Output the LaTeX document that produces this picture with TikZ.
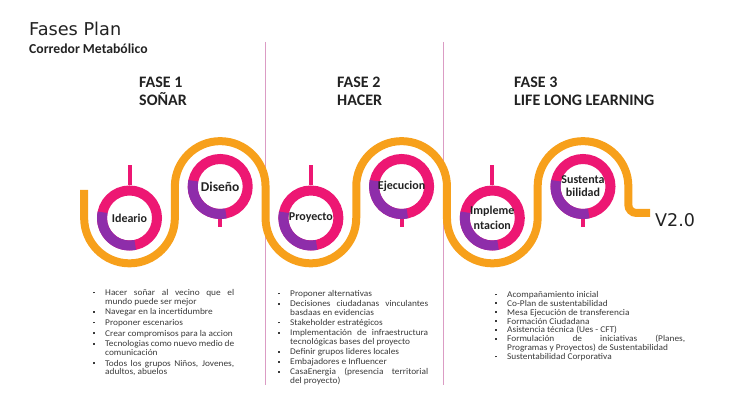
\documentclass[tikz,border=0pt]{standalone}
\usepackage{fontspec}
\setmainfont{Carlito}
\newfontfamily\dejavu{DejaVu Sans}
\newfontfamily\lstfont[FakeStretch=1.06]{Carlito}
\definecolor{orng}{HTML}{F7A01B}
\definecolor{pnk}{HTML}{ED1773}
\definecolor{prpl}{HTML}{8E2DAA}
\definecolor{divc}{HTML}{DB9CC4}
\definecolor{txt}{HTML}{222222}
\definecolor{lstc}{HTML}{3A3A3A}
\newcommand\itm[1]{\hangindent=12pt\hangafter=1\noindent\hbox to 12pt{\rule[2pt]{1.8pt}{1.8pt}\hfil}#1\par}
\newcommand\lstsetup{\lstfont\fontsize{8.8}{8.7}\selectfont}
\newcommand\nohyph[1]{\hyphenpenalty=10000 \exhyphenpenalty=10000 \emergencystretch=20pt \parskip=#1\relax}
\begin{document}
\begin{tikzpicture}[x=1pt,y=1pt,
  ringst/.style={circle, draw=pnk, line width=10pt, minimum size=55pt, inner sep=0pt},
  purp/.style={prpl, line width=10pt},
  stem/.style={pnk, line width=4pt},
  hd/.style={anchor=base west, inner sep=0pt, text=txt, font=\bfseries\fontsize{16}{18}\selectfont},
  lbl/.style={inner sep=0pt, text=txt, align=center, font=\bfseries\fontsize{12}{15}\selectfont},
  lst/.style={anchor=north west, inner sep=0pt, text=lstc, align=justify, font=\lstsetup},
  divl/.style={divc, line width=0.7pt}]
\useasboundingbox (0,0) rectangle (730,411);
% dividers
\draw[divl] (265,369) -- (265,26);
\draw[divl] (443,369) -- (443,26);
% titles
\node[anchor=base west, inner sep=0pt, text=txt, font=\dejavu\fontsize{17.7}{20}\selectfont] (title) at (29,375.5) {Fases Plan};
\node[anchor=base west, inner sep=0pt, text=txt, font=\bfseries\fontsize{13.7}{16}\selectfont] (sub) at (29,357.5) {Corredor Metabólico};
\node[hd] (f1a) at (139,323) {FASE 1};
\node[hd] (f1b) at (139,305) {SOÑAR};
\node[hd] (f2a) at (337,323) {FASE 2};
\node[hd] (f2b) at (337,305) {HACER};
\node[hd] (f3a) at (514,323) {FASE 3};
\node[hd] (f3b) at (514,305) {LIFE LONG LEARNING};
% orange path
\draw[orng, line width=8pt] (84.15,221) -- (84.15,193)
  arc[start angle=180,end angle=360,radius=45.35] -- (174.85,224.5)
  arc[start angle=180,end angle=0,radius=45.35] -- (265.55,193)
  arc[start angle=180,end angle=360,radius=45.35] -- (356.25,224.5)
  arc[start angle=180,end angle=0,radius=45.35] -- (446.95,193)
  arc[start angle=180,end angle=360,radius=45.35] -- (537.65,224.5)
  arc[start angle=180,end angle=0,radius=45.35] -- (628.35,206)
  arc[start angle=180,end angle=270,radius=8] -- (650,198);
\node[anchor=base west, inner sep=0pt, text=txt, font=\dejavu\fontsize{17.5}{20}\selectfont] (ver) at (655,184) {V2.0};
% rings
\foreach \n/\x/\y/\up in {r1/129.5/193/1, r2/220.2/224.5/0, r3/310.9/193/1, r4/401.6/224.5/0, r5/492.3/193/1, r6/583/224.5/0}{
  \node[ringst] (\n) at (\x,\y) {};
  \draw[purp] (\n.center) ++(168:27.5) arc[start angle=168,end angle=282,radius=27.5];
  \ifnum\up=1
    \draw[stem] (\n.north) -- ++(0,20.5);
  \else
    \draw[stem] (\n.south) -- ++(0,-8);
  \fi
}
\node[lbl] (t1) at (r1) {Ideario};
\node[lbl, font=\bfseries\fontsize{13.5}{15}\selectfont] (t2) at (r2) {Diseño};
\node[lbl] (t3) at (r3) {Proyecto};
\node[lbl] (t4) at (r4) {Ejecucion};
\node[lbl] (t5) at (r5) {Impleme\\ntacion};
\node[lbl, font=\bfseries\fontsize{12}{13}\selectfont] (t6) at (r6) {Sustenta\\bilidad};
% lists
\node[lst, text width=141pt] (l1) at (93,122) {\nohyph{2pt}%
\itm{Hacer soñar al vecino que el mundo puede ser mejor}
\itm{Navegar en la incertidumbre}
\itm{Proponer escenarios}
\itm{Crear compromisos para la accion}
\itm{Tecnologias como nuevo medio de comunicación}
\itm{Todos los grupos Niños, Jovenes, adultos, abuelos}};
\node[lst, text width=150pt] (l2) at (278,121) {\nohyph{1.5pt}%
\itm{Proponer alternativas}
\itm{Decisiones ciudadanas vinculantes basdaas en evidencias}
\itm{Stakeholder estratégicos}
\itm{Implementación de infraestructura tecnológicas bases del proyecto}
\itm{Definir grupos lideres locales}
\itm{Embajadores e Influencer}
\itm{CasaEnergia (presencia territorial\linebreak del proyecto)}};
\node[lst, text width=190pt] (l3) at (495,120) {\nohyph{0.2pt}%
\itm{Acompañamiento inicial}
\itm{Co-Plan de sustentabilidad}
\itm{Mesa Ejecución de transferencia}
\itm{Formación Ciudadana}
\itm{Asistencia técnica (Ues - CFT)}
\itm{Formulación de iniciativas (Planes,\linebreak Programas y Proyectos) de Sustentabilidad}
\itm{Sustentabilidad Corporativa}};
\end{tikzpicture}
\end{document}
